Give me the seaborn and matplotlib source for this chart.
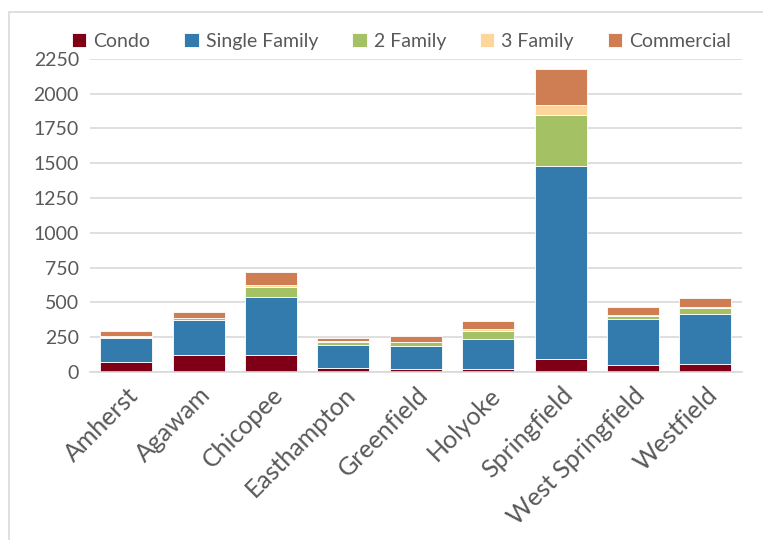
import matplotlib
matplotlib.use("Agg")
import matplotlib.pyplot as plt
import seaborn as sns
import numpy as np
from matplotlib.patches import Rectangle

# Data
cities = ["Amherst", "Agawam", "Chicopee", "Easthampton", "Greenfield",
          "Holyoke", "Springfield", "West Springfield", "Westfield"]
condo = [70, 122, 125, 29, 19, 22, 91, 50, 55]
single_family = [172, 250, 412, 163, 166, 212, 1387, 328, 359]
two_family = [12, 14, 72, 21, 28, 58, 369, 24, 43]
three_family = [5, 5, 19, 8, 3, 14, 72, 7, 7]
commercial = [36, 43, 91, 24, 43, 62, 258, 55, 69]

series = [("Condo", condo, "#7F0016"),
          ("Single Family", single_family, "#347BAD"),
          ("2 Family", two_family, "#A4C264"),
          ("3 Family", three_family, "#FDD69C"),
          ("Commercial", commercial, "#CF7D52")]

sns.set_style("white")
plt.rcParams["font.family"] = ["Lato", "DejaVu Sans"]
text_col = "#595959"
grid_col = "#D9D9D9"

fig = plt.figure(figsize=(7.63, 5.4), dpi=100)
ax = fig.add_axes([0.118, 0.311, 0.854, 0.58])

# chart border
fig.patches.append(Rectangle((9 / 763, -0.1), 1.2, 1 - 12 / 540 + 0.1,
                             transform=fig.transFigure, fill=False,
                             edgecolor=grid_col, linewidth=1.2))

bottom = np.zeros(len(cities))
for name, vals, col in series:
    sns.barplot(x=cities, y=vals, bottom=bottom, color=col, label=name,
                saturation=1, width=0.72, edgecolor="white", linewidth=0.6,
                ax=ax)
    bottom += np.array(vals)

ax.set_ylim(0, 2250)
ax.set_xlim(-0.5, 8.5)
ax.set_yticks(np.arange(0, 2251, 250))
ax.yaxis.grid(True, color=grid_col, linewidth=1.2)
ax.set_axisbelow(True)
for s in ["top", "right", "left"]:
    ax.spines[s].set_visible(False)
ax.spines["bottom"].set_color(grid_col)
ax.spines["bottom"].set_linewidth(1.2)
ax.tick_params(axis="y", labelsize=14, labelcolor=text_col, length=0, pad=8)
ax.tick_params(axis="x", labelsize=18, labelcolor=text_col, length=0, pad=8)
plt.setp(ax.get_xticklabels(), rotation=45, ha="right", rotation_mode="anchor")

ax.legend(loc="center", bbox_to_anchor=(0.478, 1.055), ncol=5, frameon=False,
          fontsize=14, labelcolor=text_col, handlelength=0.75, handleheight=0.75,
          handletextpad=0.35, columnspacing=1.75, borderaxespad=0)

fig.savefig("out.png", dpi=100)
